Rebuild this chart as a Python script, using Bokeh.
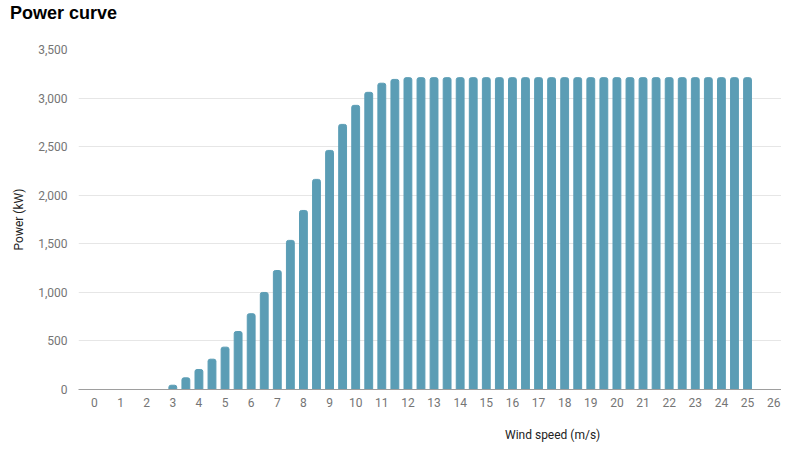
from bokeh.plotting import figure
from bokeh.layouts import column
from bokeh.models import ColumnDataSource, FixedTicker, NumeralTickFormatter, Range1d, Div
from bokeh.embed import file_html
from bokeh.resources import INLINE

wind_speed = [3, 3.5, 4, 4.5, 5, 5.5, 6, 6.5, 7, 7.5, 8, 8.5, 9, 9.5, 10, 10.5, 11, 11.5,
              12, 12.5, 13, 13.5, 14, 14.5, 15, 15.5, 16, 16.5, 17, 17.5, 18, 18.5,
              19, 19.5, 20, 20.5, 21, 21.5, 22, 22.5, 23, 23.5, 24, 24.5, 25]
power_kw = [44, 120, 206, 312, 436, 597, 780, 999, 1225, 1535, 1843, 2163, 2461, 2729,
            2925, 3059, 3153, 3192,
            3210, 3210, 3210, 3210, 3210, 3210, 3210, 3210, 3210, 3210, 3210, 3210, 3210,
            3210, 3210, 3210, 3210, 3210, 3210, 3210, 3210, 3210, 3210, 3210, 3210, 3210, 3210]
x_ticks = list(range(0, 27))
y_ticks = [0, 500, 1000, 1500, 2000, 2500, 3000, 3500]
chart_title = "Power curve"
x_label = "Wind speed (m/s)"
y_label = "Power (kW)"

source = ColumnDataSource(data=dict(x=wind_speed, top=power_kw))

title_div = Div(text=chart_title, width=300, height=22, margin=(2, 0, 0, 10),
                styles={"font-family": "Liberation Sans, Arial, sans-serif",
                        "font-size": "18px", "font-weight": "bold", "color": "#000000",
                        "line-height": "22px"})

p = figure(width=781, height=389, output_backend="svg", toolbar_location=None,
           x_range=Range1d(-0.61, 26.3), y_range=Range1d(0, 3500),
           min_border_left=78, min_border_right=0, min_border_top=25, min_border_bottom=24,
           margin=(0, 0, 0, 0))

xlabel_div = Div(text=x_label, width=200, height=16, margin=(14, 0, 0, 505),
                 styles={"font-family": "Roboto, sans-serif", "font-size": "12px",
                         "color": "#222222", "line-height": "16px"})

p.vbar(x="x", top="top", width=0.3, source=source, color="#5b9db5",
       border_radius=(2, 2, 0, 0))

p.outline_line_color = None
p.background_fill_color = "white"

p.xaxis.ticker = FixedTicker(ticks=x_ticks)
p.xaxis.major_tick_line_color = None
p.xaxis.minor_tick_line_color = None
p.xaxis.axis_line_color = "#9e9e9e"
p.xaxis.major_label_text_font = "Roboto"
p.xaxis.major_label_text_font_size = "12px"
p.xaxis.major_label_text_color = "#757575"
p.xaxis.major_label_standoff = 2

p.yaxis.ticker = FixedTicker(ticks=y_ticks)
p.yaxis.formatter = NumeralTickFormatter(format="0,0")
p.yaxis.major_tick_line_color = None
p.yaxis.minor_tick_line_color = None
p.yaxis.axis_line_color = None
p.yaxis.major_label_text_font = "Roboto"
p.yaxis.major_label_text_font_size = "12px"
p.yaxis.major_label_text_color = "#757575"
p.yaxis.major_label_standoff = 5
p.yaxis.axis_label = y_label
p.yaxis.axis_label_text_font = "Roboto"
p.yaxis.axis_label_text_font_size = "12px"
p.yaxis.axis_label_text_font_style = "normal"
p.yaxis.axis_label_text_color = "#222222"
p.yaxis.axis_label_standoff = 9

p.xgrid.grid_line_color = None
p.ygrid.grid_line_color = "#e6e6e6"

layout = column(title_div, p, xlabel_div, spacing=0)

open("out.html", "w").write(file_html(layout, INLINE))
